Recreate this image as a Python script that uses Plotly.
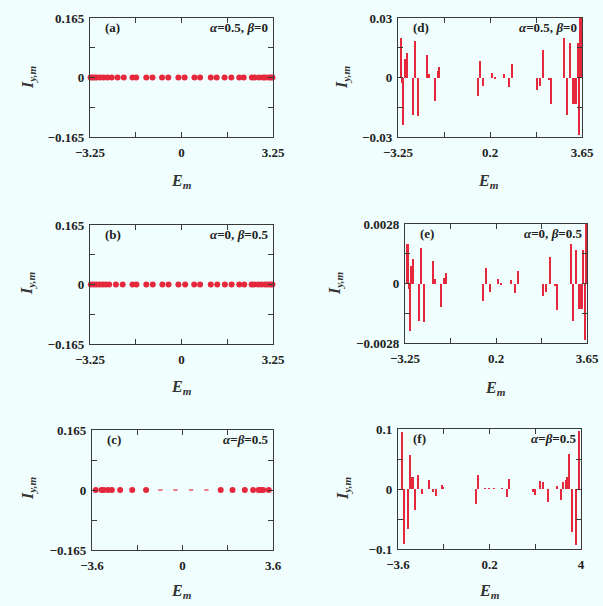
import plotly.graph_objects as go

# ---------------- data ----------------
a_E = [-3.23, -3.16, -3.09, -3.01, -2.90, -2.77, -2.63, -2.48, -2.27, -2.05, -1.74, -1.61, -1.25, -1.03,
       -0.69, -0.47, -0.11, 0.11, 0.46, 0.66, 1.04, 1.25, 1.53, 1.77, 2.05, 2.21, 2.50, 2.60, 2.76, 2.90,
       2.98, 3.10, 3.17, 3.23]
a_I = [0.0] * len(a_E)

b_E = [-3.22, -3.12, -3.02, -2.91, -2.80, -2.69, -2.57, -2.33, -2.09, -1.74, -1.60, -1.25, -1.02, -0.68,
       -0.46, -0.11, 0.13, 0.45, 0.66, 1.04, 1.27, 1.54, 1.78, 2.05, 2.23, 2.49, 2.58, 2.72, 2.84, 2.96,
       3.06, 3.16, 3.23]
b_I = [0.0] * len(b_E)

c_E = [-3.45, -3.22, -3.13, -2.96, -2.81, -2.48, -2.00, -1.45, 1.52, 1.99, 2.48, 2.81, 3.03, 3.11,
       3.21, 3.43]
c_I = [0.0] * len(c_E)
c_E_small = [-0.88, -0.28, 0.34, 0.95]
c_I_small = [0.0] * len(c_E_small)

d_E = [-3.15, -3.12, -3.09, -3.04, -2.975, -2.90, -2.70, -2.60, -2.51, -2.16, -2.075, -1.875, -1.76,
       -1.69, -0.26, -0.16, -0.04, 0.275, 0.40, 0.74, 0.90, 1.025, 1.95, 2.075, 2.21, 2.425, 2.51, 2.99,
       3.075, 3.19, 3.33, 3.37, 3.41, 3.44, 3.49, 3.54, 3.59, 3.625]
d_I = [0.0200, 0.0200, -0.0030, -0.0240, 0.0091, 0.0125, -0.0187, 0.0184, -0.0194, 0.0113, 0.0020,
       -0.0118, 0.0032, 0.0052, -0.0091, 0.0083, -0.0044, 0.0025, -0.0010, 0.0020, -0.0047, 0.0067,
       -0.0062, -0.0042, 0.0138, -0.0013, -0.0133, 0.0200, -0.0190, 0.0175, -0.0133, -0.0133, -0.0133,
       -0.0133, 0.0175, -0.0288, 0.0300, 0.0300]

e_E = [-3.16, -3.13, -3.10, -3.06, -3.00, -2.93, -2.73, -2.62, -2.53, -2.17, -2.09, -1.885, -1.77,
       -1.70, -0.27, -0.165, -0.03, 0.277, 0.404, 0.758, 0.922, 1.048, 1.984, 2.098, 2.237, 2.452, 2.526,
       3.046, 3.109, 3.223, 3.36, 3.40, 3.43, 3.46, 3.52, 3.57, 3.60, 3.63]
e_I = [0.00185, 0.00185, -0.00028, -0.00223, 0.00082, 0.00113, -0.00176, 0.00169, -0.00180, 0.00104,
       0.00019, -0.00110, 0.00028, 0.00050, -0.00083, 0.00075, -0.00041, 0.00022, -0.00009, 0.00017,
       -0.00045, 0.00061, -0.00058, -0.00039, 0.00124, -0.00013, -0.00124, 0.00185, -0.00176, 0.00160,
       -0.00122, -0.00122, -0.00122, -0.00122, 0.00160, -0.00267, 0.00280, 0.00280]

f_E = [-3.434, -3.364, -3.184, -3.101, -3.004, -2.962, -2.879, -2.754, -2.588, -2.310, -2.144, -2.033,
       -1.783, -1.74, -0.341, -0.271, 0.00, 0.19, 0.40, 0.71, 0.949, 1.018, 2.017, 2.086, 2.322, 2.447,
       2.641, 3.015, 3.182, 3.279, 3.376, 3.432, 3.515, 3.612, 3.806, 3.903]
f_I = [0.0950, -0.0911, -0.0667, 0.0572, 0.0200, 0.0200, -0.0344, 0.0233, -0.0083, 0.0156, -0.0056,
       -0.0120, 0.0072, 0.0020, -0.0250, 0.0228, 0.0010, 0.0010, 0.0010, 0.0010, -0.0139, 0.0167,
       -0.0056, -0.0094, 0.0139, 0.0111, -0.0217, 0.0044, -0.0178, 0.0122, 0.0156, 0.0200, 0.0589,
       -0.0717, -0.0928, 0.0972]

panel_labels = ["(a)", "(b)", "(c)", "(d)", "(e)", "(f)"]
param_labels = ["<i>α</i>=0.5, <i>β</i>=0", "<i>α</i>=0, <i>β</i>=0.5", "<i>α</i>=<i>β</i>=0.5",
                "<i>α</i>=0.5, <i>β</i>=0", "<i>α</i>=0, <i>β</i>=0.5", "<i>α</i>=<i>β</i>=0.5"]

x_ranges = [(-3.25, 3.25), (-3.25, 3.25), (-3.6, 3.6), (-3.25, 3.65), (-3.25, 3.65), (-3.6, 4.0)]
x_ticklabels = [["−3.25", "0", "3.25"], ["−3.25", "0", "3.25"], ["−3.6", "0", "3.6"],
                ["−3.25", "0.2", "3.65"], ["−3.25", "0.2", "3.65"], ["−3.6", "0.2", "4"]]
y_ranges = [0.165, 0.165, 0.165, 0.03, 0.0028, 0.1]
y_ticklabels = [["−0.165", "0", "0.165"], ["−0.165", "0", "0.165"], ["−0.165", "0", "0.165"],
                ["−0.03", "0", "0.03"], ["−0.0028", "0", "0.0028"], ["−0.1", "0", "0.1"]]

# ---------------- layout geometry (pixels) ----------------
W, H = 603, 606
boxes = [(90, 273, 18, 137), (90, 273, 225, 344), (92, 273, 430, 550),
         (398, 582, 18, 137), (405, 587, 224, 343), (398, 581, 429, 549)]
xtitle_pos = [(181, 182), (181, 387), (181, 591), (488, 182), (495, 388), (489, 591)]
ytitle_pos = [(28, 77), (27, 283), (28, 488), (342, 77), (335, 283), (343, 488)]

RED = "#E5283C"
BG = "#F0FEFE"
AX = "#3a3a3a"
FONT = "Liberation Serif"

fig = go.Figure()

dots = [(a_E, a_I), (b_E, b_I), (c_E, c_I)]
bars = [(d_E, d_I, 0.05), (e_E, e_I, 0.05), (f_E, f_I, 0.055)]

for i in range(6):
    xa = "x" if i == 0 else f"x{i+1}"
    ya = "y" if i == 0 else f"y{i+1}"
    if i < 3:
        E, I = dots[i]
        fig.add_trace(go.Scatter(x=E, y=I, mode="markers", xaxis=xa, yaxis=ya,
                                 marker=dict(color=RED, size=6, line=dict(width=0)),
                                 cliponaxis=False, showlegend=False))
        if i == 2:
            fig.add_trace(go.Scatter(x=c_E_small, y=c_I_small, mode="markers", xaxis=xa, yaxis=ya,
                                     marker=dict(symbol="line-ew", color=RED, size=3,
                                                 line=dict(width=1.2, color=RED)),
                                     showlegend=False))
    else:
        E, I, wdt = bars[i - 3]
        fig.add_trace(go.Bar(x=E, y=I, width=wdt, xaxis=xa, yaxis=ya,
                             marker=dict(color=RED, line=dict(width=0)), showlegend=False))

    x0, x1, y0, y1 = boxes[i]
    xr = x_ranges[i]
    xt_all = [xr[0] + k * (xr[1] - xr[0]) / 4 for k in range(5)]
    yr = y_ranges[i]
    yt_all = [-yr, -yr / 2, 0, yr / 2, yr]
    axis_common = dict(showgrid=False, zeroline=False, showline=True, mirror="allticks",
                       linecolor=AX, linewidth=1.3, ticks="inside", ticklen=5, tickwidth=1.1,
                       tickcolor=AX, tickfont=dict(family=FONT, size=13, color="#222", weight="bold"),
                       automargin=False, fixedrange=True)
    key_x = "xaxis" if i == 0 else f"xaxis{i+1}"
    key_y = "yaxis" if i == 0 else f"yaxis{i+1}"
    fig.layout[key_x] = dict(domain=[x0 / W, x1 / W], range=list(xr), anchor=ya,
                             tickmode="array", tickvals=[xt_all[0], xt_all[2], xt_all[4]],
                             ticktext=x_ticklabels[i], ticklabelstandoff=3,
                             minor=dict(tickmode="array", tickvals=[xt_all[1], xt_all[3]],
                                        ticks="inside", ticklen=5, tickwidth=1.1, tickcolor=AX,
                                        showgrid=False),
                             **axis_common)
    fig.layout[key_y] = dict(domain=[1 - y1 / H, 1 - y0 / H], range=[-yr, yr], anchor=xa,
                             tickmode="array", tickvals=[yt_all[0], yt_all[2], yt_all[4]],
                             ticktext=y_ticklabels[i], ticklabelstandoff=2,
                             minor=dict(tickmode="array", tickvals=[yt_all[1], yt_all[3]],
                                        ticks="inside", ticklen=5, tickwidth=1.1, tickcolor=AX,
                                        showgrid=False),
                             **axis_common)

    fig.add_annotation(x=(x0 + 13) / W, y=1 - (y0 + 9) / H, xref="paper", yref="paper",
                       text=f"<b>{panel_labels[i]}</b>", showarrow=False, xanchor="left",
                       yanchor="middle", font=dict(family=FONT, size=13, color="#222"))
    fig.add_annotation(x=(x1 - 3) / W, y=1 - (y0 + 9) / H, xref="paper", yref="paper",
                       text=f"<b>{param_labels[i]}</b>", showarrow=False, xanchor="right",
                       yanchor="middle", font=dict(family=FONT, size=13, color="#222"))
    tx, ty = xtitle_pos[i]
    fig.add_annotation(x=tx / W, y=1 - ty / H, xref="paper", yref="paper",
                       text="<b><i>E<sub>m</sub></i></b>", showarrow=False, xanchor="center",
                       yanchor="middle", font=dict(family=FONT, size=16, color="#333"))
    tx, ty = ytitle_pos[i]
    fig.add_annotation(x=tx / W, y=1 - ty / H, xref="paper", yref="paper",
                       text="<b><i>I<sub>y,m</sub></i></b>", showarrow=False, xanchor="center",
                       yanchor="middle", textangle=-90, font=dict(family=FONT, size=16, color="#333"))

fig.update_layout(width=W, height=H, margin=dict(l=0, r=0, t=0, b=0),
                  paper_bgcolor=BG, plot_bgcolor=BG, bargap=0, showlegend=False)

fig.write_html("out.html", config={"displayModeBar": False},
               post_script="document.body.style.margin='0';document.body.style.overflow='hidden';"
                           "document.body.style.background='" + BG + "';")
